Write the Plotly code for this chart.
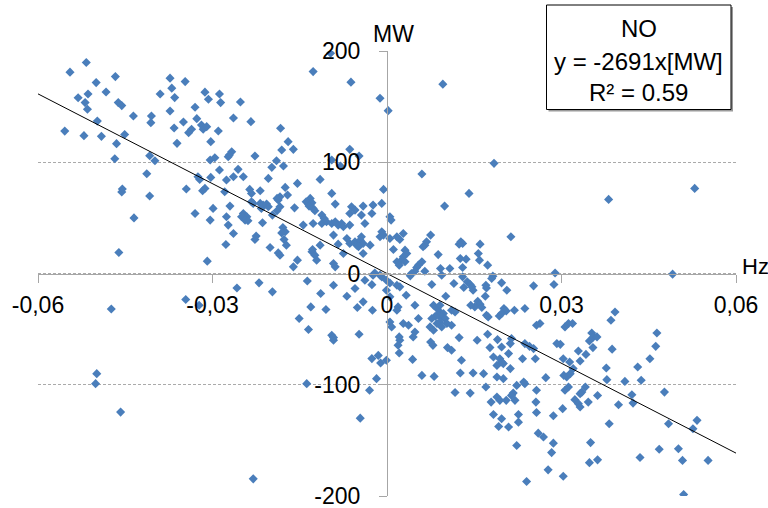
import plotly.graph_objects as go

# ---------------- data ----------------
freq_hz = [
    -0.0517, -0.0545, -0.0500, -0.0467, -0.0514, -0.0531, -0.0519, -0.0515, -0.0483, -0.0462,
    -0.0456, -0.0436, -0.0498, -0.0554, -0.0521, -0.0491, -0.0451, -0.0465, -0.0468, -0.0413,
    -0.0408, -0.0399, -0.0455, -0.0456, -0.0408, -0.0405, -0.0406, -0.0373, -0.0370, -0.0365,
    -0.0390, -0.0347, -0.0373, -0.0350, -0.0366, -0.0361, -0.0330, -0.0313, -0.0327, -0.0336,
    -0.0341, -0.0319, -0.0316, -0.0310, -0.0307, -0.0325, -0.0322, -0.0345, -0.0313, -0.0317,
    -0.0304,
    -0.0097, -0.0127, -0.0062, -0.0012, 0.0002, -0.0288, -0.0286, -0.0252, -0.0264, -0.0234,
    -0.0290, -0.0303, -0.0183, -0.0170, -0.0181, -0.0161, -0.0267, -0.0271, -0.0273, -0.0296,
    -0.0227, -0.0190, -0.0198, -0.0178, -0.0064, -0.0048, -0.0095, -0.0080, -0.0288, -0.0256,
    -0.0264, -0.0247, -0.0276, -0.0303, -0.0204, -0.0115, -0.0154, -0.0175, -0.0236, -0.0233,
    -0.0218, -0.0279, -0.0095, -0.0171, -0.0184, -0.0189, -0.0132, -0.0006,
    0.0096, 0.0060, 0.0184, 0.0141, 0.0529, 0.0381, -0.0435, -0.0461, -0.0330, -0.0309,
    -0.0304, -0.0474, -0.0346, -0.0323, -0.0499, -0.0501, -0.0458,
    -0.0230, -0.0138, -0.0046, -0.0030, -0.0018, -0.0026, -0.0015, -0.0011, -0.0001, 0.0021,
    -0.0092,
    0.0044, 0.0060, 0.0081, 0.0104, 0.0111, 0.0128, 0.0126, 0.0148, 0.0166, 0.0117,
    0.0143, 0.0177, 0.0183, 0.0194, 0.0197, 0.0189, 0.0200, 0.0209, 0.0212, 0.0233,
    0.0255, 0.0189, 0.0200, 0.0170, 0.0223, 0.0235, 0.0237, 0.0273, 0.0257, 0.0217,
    0.0214, 0.0220, 0.0189, 0.0194, 0.0205, 0.0179, 0.0256, 0.0183, 0.0197, 0.0226,
    0.0226, 0.0257, 0.0192, 0.0209, 0.0286, 0.0302, 0.0260, 0.0269, 0.0223, 0.0286,
    0.0283, 0.0277, 0.0240, 0.0303, 0.0309, 0.0306, 0.0312,
    0.0462, 0.0387, 0.0354, 0.0348, 0.0329, 0.0342, 0.0332, 0.0303, 0.0314, 0.0320,
    0.0304, 0.0315, 0.0452, 0.0431, 0.0377, 0.0378, 0.0409, 0.0437, 0.0341, 0.0335,
    0.0332, 0.0323, 0.0329, 0.0332, 0.0346, 0.0362, 0.0421, 0.0423, 0.0398, 0.0477,
    0.0382, 0.0484, 0.0533, 0.0526, 0.0350, 0.0348, 0.0362, 0.0435, 0.0468, 0.0501,
    0.0508, 0.0552, 0.0510,
    0.0491, 0.0392, 0.0385, 0.0319, 0.0464, 0.0352, 0.0355, 0.0361, 0.0298,
    0.0099, 0.0005, 0.0007, 0.0213, 0.0028, 0.0017, 0.0005, 0.0022, 0.0075, 0.0068,
    0.0065, 0.0062, 0.0127, 0.0130, 0.0124, 0.0160, 0.0011, 0.0031, 0.0034, 0.0028,
    0.0025, 0.0031, 0.0088, 0.0126, 0.0136, 0.0157, 0.0159, 0.0060, 0.0054, 0.0051,
    0.0048, 0.0042, 0.0040, 0.0065, 0.0092, 0.0108, 0.0094, 0.0130, 0.0130, 0.0173,
    0.0182, 0.0180, 0.0289, 0.0287, 0.0252, 0.0197, 0.0138, 0.0143, 0.0132, 0.0148,
    0.0146, 0.0115, 0.0077, 0.0017, 0.0022, 0.0170, 0.0171, 0.0169, 0.0206, 0.0033,
    0.0101, 0.0156, 0.0160, 0.0151, 0.0163, 0.0144, 0.0237, 0.0219, 0.0201, 0.0205,
    0.0193, 0.0197, 0.0171, 0.0174, 0.0019, 0.0017, 0.0048, 0.0080, 0.0086, 0.0091,
    0.0091, 0.0097, 0.0088, 0.0094, 0.0083, 0.0077, 0.0100, 0.0091, 0.0086, 0.0103,
    0.0094, 0.0111, 0.0054, 0.0111, 0.0117, 0.0028, 0.0037, 0.0074, 0.0080, 0.0124,
    0.0155, 0.0173, 0.0190, 0.0212, 0.0214, 0.0237, 0.0245, 0.0252, 0.0257, 0.0263,
    0.0292, 0.0312, 0.0306, 0.0022, 0.0005, 0.0008, 0.0048, 0.0045, 0.0075, 0.0079,
    0.0197,
    -0.0299, -0.0270, -0.0276, -0.0273, -0.0264, -0.0247, -0.0241, -0.0250, -0.0244, -0.0239,
    -0.0233, -0.0230, -0.0218, -0.0213, -0.0207, -0.0216, -0.0204, -0.0187, -0.0184, -0.0189,
    -0.0214, -0.0197, -0.0225, -0.0227, -0.0277, -0.0201, -0.0187, -0.0184, -0.0179, -0.0175,
    -0.0181, -0.0177, -0.0173, -0.0159, -0.0144, -0.0139, -0.0135, -0.0129, -0.0127, -0.0124,
    -0.0134, -0.0154, -0.0161, -0.0128, -0.0129, -0.0124, -0.0121, -0.0127, -0.0112, -0.0108,
    -0.0112, -0.0104, -0.0115, -0.0095, -0.0089, -0.0084, -0.0078, -0.0075, -0.0092, -0.0089,
    -0.0084, -0.0092, -0.0089, -0.0064, -0.0061, -0.0055, -0.0064, -0.0069, -0.0064, -0.0055,
    -0.0052, -0.0046, -0.0044, -0.0041, -0.0049, -0.0075, -0.0041, -0.0029, -0.0044, -0.0038,
    -0.0041, -0.0024, -0.0026, -0.0009, -0.0009, -0.0006, -0.0012, 0.0017, 0.0021, -0.0021,
    -0.0012, -0.0009, -0.0024, -0.0001, 0.0005, -0.0038, -0.0026, -0.0055, -0.0069, -0.0041,
    -0.0051, -0.0025, -0.0001, 0.0005, -0.0092, -0.0114, -0.0137, -0.0131, -0.0105, -0.0151,
    -0.0135, -0.0095, -0.0092, -0.0048, 0.0021, 0.0019, -0.0258, -0.0220, -0.0197,
]

power_mw = [
    189.6, 181, 171.6, 177, 161.4, 158, 153.6, 147.6, 163.2, 153.6,
    150.9, 141.6, 137, 128, 123.9, 123.3, 125, 116.7, 103.2, 89.7,
    105.9, 101.4, 75.9, 73.2, 69.6, 141.6, 135.6, 175.6, 166.6, 158.1,
    161.4, 172.5, 146.1, 136.2, 130.8, 117, 149.5, 163, 139.2, 129.6,
    126.6, 133.5, 129.6, 132, 156.6, 87, 84.6, 75.9, 76.5, 74.4,
    102,
    198, 181.5, 172, 157.5, 146.4, 161.4, 153.6, 154.2, 139.8, 136.5,
    128.1, 118.5, 130.5, 118.5, 111, 111.6, 109.5, 106.5, 105, 104,
    105.6, 101.4, 95.4, 96.6, 111.6, 105.6, 102, 96.6, 93, 93.6,
    87, 87, 84, 86.4, 85.5, 84.6, 81, 77.4, 75.6, 72,
    74.4, 73.5, 72, 70.5, 69, 67.5, 67.5, 75.6,
    170.2, 89.4, 99, 72, 76.5, 66.6, 50, 18.9, 54, 11.1,
    48, -31.9, -23.4, -28.5, -90, -99, -124.6,
    -184.6, -99, -130, -105, -94.5, -76.5, -73.6, -80.5, -78, -71.5,
    -60,
    -77.2, -91.6, -92.5, -66.6, -69, -78, -89.5, -89.5, -90, -107,
    -107.5, -66.6, -75, -76.6, -79.6, -82.6, -81, -72, -85.5, -76.6,
    -76.6, -93, -94.5, -102, -100.6, -97.6, -99, -93.6, -105, -107.5,
    -109.6, -114, -111, -114, -114, -115.6, -115.6, -126.7, -130.5, -126.7,
    -133.6, -125, -137.5, -138, -127.8, -121.5, -143.5, -147, -154.6, -152.5,
    -161, -176.5, -187, -182.2, -93, -105, -102,
    -65.5, -68, -66.6, -60.6, -69.7, -72.7, -78.7, -76.6, -79.6, -85.5,
    -91.6, -90, -76.6, -84, -85, -95.4, -97, -96, -102, -106.6,
    -108, -113.4, -117, -120, -115.6, -109.6, -109, -116.5, -118, -106.6,
    -135, -135, -132, -139.5, -152, -170, -167.5, -165.4, -158, -157.5,
    -168, -168, -198.7,
    -0.6, -34.6, -42, -45, -53.5, -53.5, -57, -57, -63.7,
    60.6, 51, 48, 33, 36, 33, 31.5, 30.6, 34.5, 28.5,
    25.5, 24, 28.5, 27, 26.4, 26.4, 21.6, 21, 18, 15,
    12, 10.5, 17, 13.5, 12.9, 18, 12, 10.5, 7.5, 5.4,
    2, 0, -2.1, 2, 4.5, 4.5, -1.5, 5.4, -3, 7.5,
    -2.4, -4.5, 0.5, -9.9, -11.1, -8.4, -7.5, -9.9, -12.6, -15,
    -12, -9, -9.9, -10.5, -12, -10.5, -13, -20.4, -15, -19.5,
    -20.4, -25, -27.6, -30, -30.6, -28.5, -31.5, -33, -31.5, -33.7,
    -38.2, -36, -37.5, -39, -30, -33, -28.5, -28.5, -31.5, -28.5,
    -34.6, -36, -37.5, -39, -38.5, -40.5, -40.5, -43.6, -45, -45,
    -48, -46.5, -40.5, -33, -34.6, -45, -46.5, -48, -51, -57.6,
    -60, -54.6, -59.4, -63, -58.5, -63, -65.5, -67.5, -46.5, -45,
    -63, -45, -48, -60, -43.6, -48, -52.6, -57, -61.6, -64.6,
    -66,
    58.5, 60.6, 51, 43.5, 36, 54, 51, 51, 48, 47.4,
    64.5, 63, 63, 61.5, 62.4, 58.5, 60, 66, 60, 56.4,
    45.6, 52.5, 33.6, 30.6, 26.1, 23.4, 18.5, 16.5, 41.4, 37.5,
    36.5, 30.6, 25.5, 59, 43.5, 64.5, 62.4, 63.5, 58.5, 56.4,
    60.6, 12, 6, 21.6, 19.5, 16.5, 12, 45, 52.5, 49.5,
    45, 46.5, 25.5, 45, 46.5, 43.5, 45, 42, 34.5, 62.4,
    26.4, 9, 6, 43.5, 60, 57, 54, 31.5, 27, 28.5,
    25.5, 30, 33, 27, 24, 18, 18, 25.5, 52.5, 45,
    60.6, 61.5, 54, 63, 37.5, 34.5, 33, 10.5, 7.5, 0.5,
    -1.5, -3, -1.5, -6, -8.5, -6, -10, -13.5, -20.4, -25.5,
    -30.6, -33, -15, -21, -10.5, -18, -6.7, -30, -32.4, -40.5,
    -50.4, -55.5, -57.6, -54.6, -57, -64.5, -13, -8.4, -16.5,
]
assert len(freq_hz) == len(power_mw)

x_tick_vals = [-0.06, -0.03, 0, 0.03, 0.06]
x_tick_text = ["-0,06", "-0,03", "0", "0,03", "0,06"]
y_tick_vals = [-200, -100, 0, 100, 200]
y_tick_text = ["-200", "-100", "0", "100", "200"]
x_range = [-0.06, 0.06]
y_range = [-200, 200]

trend_slope = -2691          # MW per Hz
legend_title = "NO"
legend_eq = "y = -2691x[MW]"
legend_r2 = "R² = 0.59"

# ---------------- layout geometry (pixels) ----------------
W, H = 768, 508
ML, MR, MT, MB = 38, 32, 51, 12
PW, PH = W - ML - MR, H - MT - MB


def px(xp):
    return (xp - ML) / PW


def py(yp):
    return (H - MB - yp) / PH


FONT = "Liberation Sans"
BLUE = "#4a7ebb"
AXIS = "#a6a6a6"
TICK_SIZE = 23
BOX_SIZE = 24

fig = go.Figure()
fig.add_trace(go.Scatter(
    x=freq_hz, y=power_mw, mode="markers",
    marker=dict(symbol="diamond", size=7, color=BLUE, line=dict(width=0)),
    hoverinfo="skip", showlegend=False,
))
fig.add_trace(go.Scatter(
    x=x_range, y=[trend_slope * v for v in x_range], mode="lines",
    line=dict(color="black", width=1), hoverinfo="skip", showlegend=False,
))

fig.update_layout(
    width=W, height=H,
    margin=dict(l=ML, r=MR, t=MT, b=MB, autoexpand=False),
    paper_bgcolor="white", plot_bgcolor="white",
    font=dict(family=FONT, size=TICK_SIZE, color="black"),
    showlegend=False,
    xaxis=dict(
        range=x_range, tickvals=x_tick_vals, ticktext=x_tick_text,
        showgrid=False, zeroline=False, showline=True, linecolor=AXIS, linewidth=1,
        ticks="outside", ticklen=8, tickcolor=AXIS, tickwidth=1,
        anchor="free", position=0.5, automargin=False,
        tickfont=dict(family=FONT, size=TICK_SIZE, color="black"),
        ticklabelstandoff=3, ticklabeloverflow="allow",
    ),
    yaxis=dict(
        range=y_range, tickvals=y_tick_vals, ticktext=y_tick_text,
        showgrid=True, gridcolor="#aaaaaa", griddash="3px,2px", gridwidth=1,
        zeroline=False, showline=True, linecolor=AXIS, linewidth=1,
        ticks="outside", ticklen=8, tickcolor=AXIS, tickwidth=1,
        anchor="free", position=0.5, automargin=False,
        tickfont=dict(family=FONT, size=TICK_SIZE, color="black"),
        ticklabelstandoff=14, ticklabeloverflow="allow",
    ),
)

# text box with shadow
bx0, bx1, by0, by1 = 546.5, 731, 5, 109.5
fig.add_shape(type="rect", xref="paper", yref="paper",
              x0=px(bx0 + 2), x1=px(bx1 + 2), y0=py(by1 + 2), y1=py(by0 + 2),
              line=dict(width=0), fillcolor="#9a9a9a", layer="above")
fig.add_shape(type="rect", xref="paper", yref="paper",
              x0=px(bx0), x1=px(bx1), y0=py(by1), y1=py(by0),
              line=dict(color="black", width=1), fillcolor="white", layer="above")

cx = (bx0 + bx1) / 2
for txt, yy in [(legend_title, 28), (legend_eq, 61), (legend_r2, 92.5)]:
    fig.add_annotation(text=txt, xref="paper", yref="paper", x=px(cx), y=py(yy),
                       xanchor="center", yanchor="middle", showarrow=False,
                       font=dict(family=FONT, size=BOX_SIZE, color="black"))

# axis titles
fig.add_annotation(text="Hz", xref="paper", yref="paper", x=px(740), y=py(266),
                   xanchor="left", yanchor="middle", showarrow=False,
                   font=dict(family=FONT, size=22, color="black"))
fig.add_annotation(text="MW", xref="paper", yref="paper", x=px(371), y=py(34),
                   xanchor="left", yanchor="middle", showarrow=False,
                   font=dict(family=FONT, size=TICK_SIZE, color="black"))

fig.write_html("out.html", config={"displayModeBar": False},
               post_script="document.body.style.margin='0';")
